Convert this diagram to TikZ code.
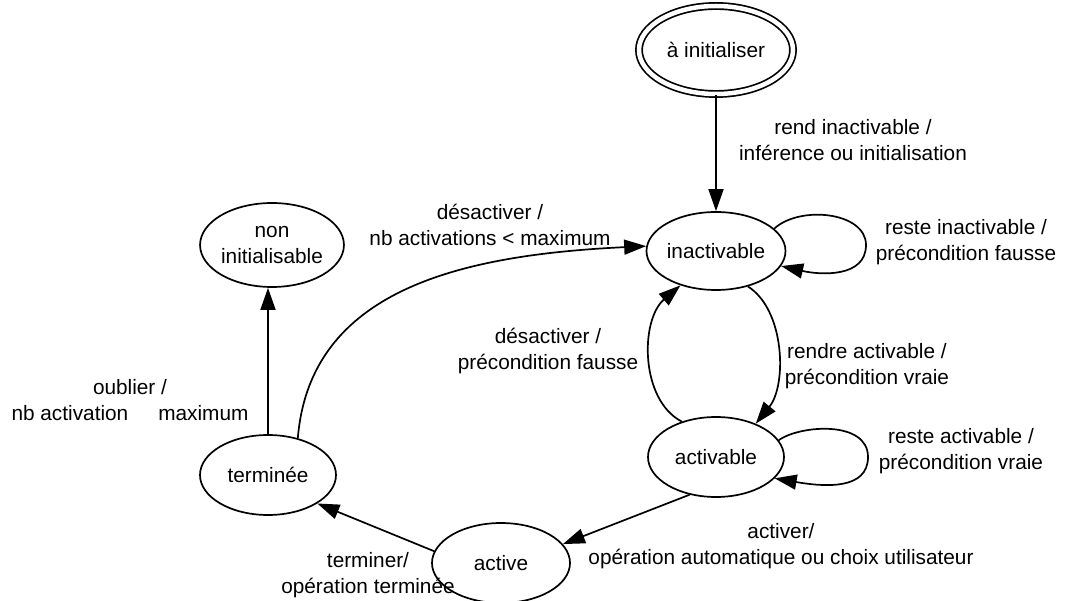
\documentclass[tikz,border=0pt]{standalone}
\usepackage{fontspec}
\setmainfont{Liberation Sans}
\usetikzlibrary{arrows.meta,shapes.geometric}

\begin{document}
\begin{tikzpicture}[x=1pt, y=-1pt,
  etat/.style={draw, ellipse, line width=1.7pt, inner sep=0pt, align=center,
    minimum width=136pt, minimum height=78pt, font=\fontsize{20.8pt}{25.5pt}\selectfont},
  trans/.style={line width=1.7pt, -{Triangle[length=22pt, width=15pt]}},
  lbl/.style={align=center, inner sep=0pt, font=\fontsize{20.8pt}{25.5pt}\selectfont}]
\useasboundingbox (0,0) rectangle (1066,601);
% States
\node[etat, double, double distance=4.5pt, minimum width=154pt, minimum height=88pt] (init) at (716,50) {à initialiser};
\node[etat] (inact) at (716,251) {inactivable};
\node[etat, minimum height=80pt] (act) at (716,457) {activable};
\node[etat, minimum width=138pt, minimum height=80pt] (active) at (501,563) {active};
\node[etat, minimum height=80pt] (term) at (268,475) {terminée};
\node[etat, minimum width=140pt, minimum height=84pt] (nonin) at (272,245) {non\\initialisable};
% Transitions
\draw[trans] (init) -- (inact);
\draw[trans] (inact.21) .. controls (800,205) and (866,212) .. (866,245)
  .. controls (866,278) and (820,275) .. (inact.-13);
\draw[trans] (act.15) .. controls (800,425) and (868,420) .. (868,457)
  .. controls (868,490) and (825,487) .. (act.-20);
\draw[trans] (inact.-48) .. controls (785,310) and (787,385) .. (act.40);
\draw[trans] (act.134) .. controls (640,400) and (640,320) .. (inact.-136);
\draw[trans] (act.235) -- (active.17);
\draw[trans] (active.170) -- (term.-30);
\draw[trans] (term) -- (term |- nonin.south);
\draw[trans] (term.51) .. controls (310,290) and (460,255) .. (inact.176);
% Labels
\node[lbl] (l1) at (853,140) {rend inactivable /\\inférence ou initialisation};
\node[lbl] (l2) at (966,242) {reste inactivable /\\précondition fausse};
\node[lbl] (l3) at (961,451) {reste activable /\\précondition vraie};
\node[lbl] (l4) at (867,366) {rendre activable /\\précondition vraie};
\node[lbl] (l5) at (548,351) {désactiver /\\précondition fausse};
\node[lbl] (l6) at (781,546) {activer/\\opération automatique ou choix utilisateur};
\node[lbl] (l7) at (368,575) {terminer/\\opération terminée};
\node[lbl] (l8) at (130,400) {oublier /\\nb activation\hspace{30pt}maximum};
\node[lbl] (l9) at (490,225) {désactiver /\\nb activations < maximum};
\end{tikzpicture}
\end{document}
